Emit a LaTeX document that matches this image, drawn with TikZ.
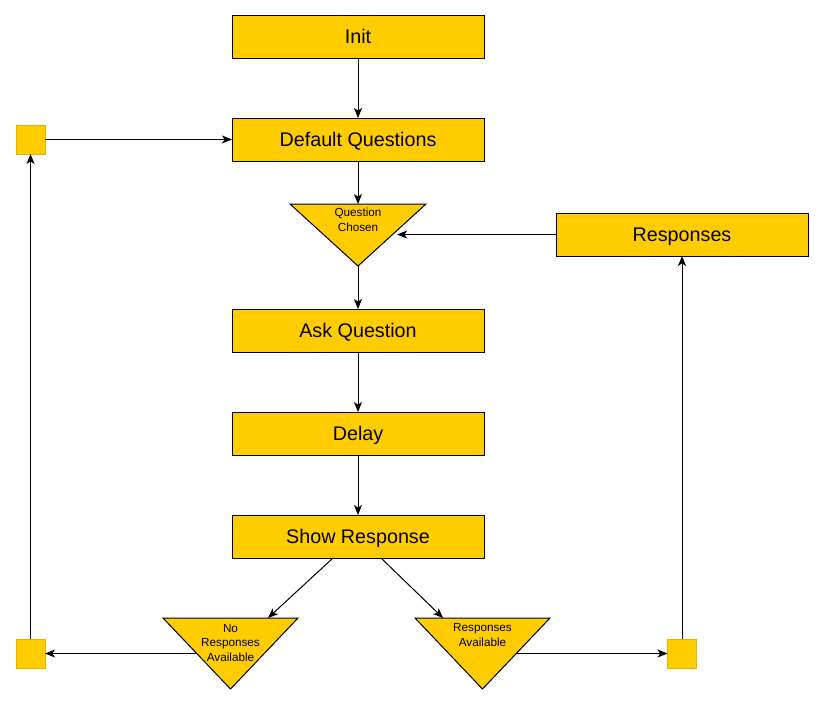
\documentclass[tikz,border=0pt]{standalone}
\usepackage{fontspec}
\setmainfont{Liberation Sans}
\usetikzlibrary{arrows.meta, shapes.geometric, positioning, calc}
\definecolor{ambar}{HTML}{FFCC00}
\definecolor{ambaroscuro}{HTML}{E3B400}

\begin{document}
\begin{tikzpicture}[
  x=0.75pt, y=-0.75pt,
  node distance=45pt,
  box/.style={
    rectangle, draw=black, fill=ambar,
    line width=0.75pt, inner sep=0pt, outer sep=0pt,
    font=\fontsize{14.8}{17}\selectfont,
    text height=10.6pt, text depth=0pt,
    minimum width=189pt, minimum height=32.25pt
  },
  decision/.style={
    isosceles triangle, isosceles triangle stretches,
    shape border rotate=270, draw=black, fill=ambar,
    line width=0.75pt, inner sep=0pt, outer sep=0pt
  },
  dlabel/.style={font=\fontsize{8.8}{11}\selectfont, align=center, inner sep=0pt},
  junction/.style={
    rectangle, fill=ambar, draw=ambaroscuro, line width=0.4pt,
    minimum size=21.75pt, inner sep=0pt, outer sep=0pt
  },
  arr/.style={-{Stealth[length=7.5pt, width=6pt, inset=2pt]}, line width=0.75pt}
]
  \useasboundingbox (0,0) rectangle (823,704);

  % main column
  \node[box] (init) at (358,36.5) {Init};
  \node[box, below=of init] (dq) {Default Questions};
  \node[decision, minimum width=102pt, minimum height=46.5pt,
        below=32.25pt of dq] (qc) {};
  \node[box, below=32.25pt of qc] (aq) {Ask Question};
  \node[box, below=of aq] (delay) {Delay};
  \node[box, below=of delay] (sr) {Show Response};
  \node[box] (resp) at (682,234.5) {Responses};

  % decisions after the response
  \node[decision, minimum width=101.25pt, minimum height=53.25pt,
        anchor=lower side] (nr) at (230.5,618) {};
  \node[decision, minimum width=101.25pt, minimum height=53.25pt,
        anchor=lower side] (ra) at (482.5,618) {};
  \node[dlabel] (qclab) at ($(qc.lower side)+(0,16)$) {Question\\Chosen};
  \node[dlabel] (nrlab) at ($(nr.lower side)+(0,25)$) {No\\Responses\\Available};
  \node[dlabel] (ralab) at ($(ra.lower side)+(0,17)$) {Responses\\Available};

  % junction squares
  \node[junction] (sqtl) at (30.5,139.5) {};
  \node[junction] (sqbl) at (30.5,653.5) {};
  \node[junction] (sqbr) at (682,653.5) {};

  \foreach \a/\b in {init/dq, dq/qc, aq/delay, delay/sr}
    \draw[arr] (\a)--(\b);
  \draw[arr] (qc.apex) -- (aq);
  \draw[arr] ($(sr.south)+(-25,0)$) -- ($(nr.lower side)+(37.5,0)$);
  \draw[arr] ($(sr.south)+(23,0)$) -- ($(ra.lower side)+(-39.5,0)$);
  \draw[arr] ($(nr.lower side)+(-33.5,35.5)$) -- (sqbl.east);
  \draw[arr] (sqbl) -- (sqtl);
  \draw[arr] (sqtl) -- (dq);
  \draw[arr] ($(ra.lower side)+(33.5,35.5)$) -- (sqbr.west);
  \draw[arr] (sqbr) -- (resp);
  \draw[arr] (resp.west) -- (resp.west -| qc.east);
\end{tikzpicture}
\end{document}
